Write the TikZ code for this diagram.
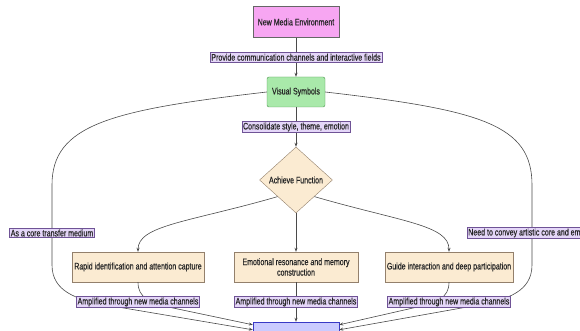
\documentclass[tikz,border=0pt]{standalone}
\usepackage{fontspec}
\setmainfont{Liberation Sans}[FakeStretch=0.74,FakeBold=0.4]
\usetikzlibrary{arrows.meta,calc,shapes.geometric}

\definecolor{envpink}{HTML}{F7A6F2}
\definecolor{symgreen}{HTML}{A9E9AA}
\definecolor{funcpeach}{HTML}{FBEBD2}
\definecolor{lblfill}{HTML}{E4D6F8}
\definecolor{lbldraw}{HTML}{6F5396}
\definecolor{resblue}{HTML}{CACBFF}
\definecolor{edgegray}{HTML}{4A4A4A}

\tikzset{
  txt/.style={font=\fontsize{9.5}{10.5}\selectfont, align=center, text=black!85},
  envbox/.style={txt, rectangle, draw=gray!80!black, fill=envpink, minimum width=86pt, minimum height=31pt},
  symbox/.style={txt, rectangle, rounded corners=2pt, draw=green!40!black!70, fill=symgreen, minimum width=58pt, minimum height=30pt},
  funcdia/.style={txt, diamond, aspect=1.1, inner sep=0pt, draw=gray!70!brown, fill=funcpeach, minimum width=73pt, minimum height=66pt},
  effbox/.style={txt, rectangle, draw=gray!70!brown, fill=funcpeach, minimum height=30pt, inner sep=2pt},
  resbox/.style={txt, rectangle, draw=blue!55!gray, fill=resblue, minimum width=86pt, minimum height=38pt},
  lbl/.style={txt, rectangle, draw=lbldraw, fill=lblfill, inner sep=1.2pt},
  link/.style={edgegray, line width=0.6pt, -{Stealth[length=4pt,width=3pt]}}
}

\begin{document}
\begin{tikzpicture}[x=1pt,y=-1pt]
\useasboundingbox (0,0) rectangle (580,331);

\node[envbox] (env) at (296,22) {New Media Environment};
\node[symbox] (sym) at (296,92) {Visual Symbols};
\node[funcdia] (ach) at (296,180) {Achieve Function};
\node[effbox, minimum width=132pt] (rapid) at (138,267) {Rapid identification and attention capture};
\node[effbox, minimum width=124pt] (emo) at (296,267) {Emotional resonance and memory\\construction};
\node[effbox, minimum width=124pt] (guide) at (449,267) {Guide interaction and deep participation};
\node[resbox] (res) at (296,341) {};

\coordinate (resl1) at ($(res.north west)+(0,3)$);
\coordinate (resl2) at ($(res.north west)+(0,8)$);
\coordinate (resr1) at ($(res.north east)+(0,3)$);
\coordinate (resr2) at ($(res.north east)+(0,8)$);

% long side routes
\draw[link] (sym.west) .. controls (110,110) and (52,125) .. (52,185) -- (52,265)
  .. controls (52,292) and (78,299) .. (100,304) -- (resl2);
\draw[link] (sym.east) .. controls (482,110) and (532,125) .. (532,185) -- (532,265)
  .. controls (532,292) and (506,299) .. (484,304) -- (resr2);
\node[lbl] (core) at (52,233) {As a core transfer medium};
\node[lbl] (convey) at (532,233) {Need to convey artistic core and emotion};

\draw[link] (env) -- node[lbl] (chan) {Provide communication channels and interactive fields} (sym);
\draw[link] (sym) -- node[lbl] (cons) {Consolidate style, theme, emotion} (ach);

\draw[link] (ach.south west) .. controls (190,222) and (138,225) .. (rapid.north);
\draw[link] (ach) -- (emo);
\draw[link] (ach.south east) .. controls (402,222) and (449,225) .. (guide.north);

\draw[link] (rapid.south) .. controls (138,298) and (150,303) .. (173,308) -- (resl1);
\draw[link] (emo) -- (res);
\draw[link] (guide.south) .. controls (449,298) and (437,303) .. (413,308) -- (resr1);
\node[lbl] (ampl) at (138,302) {Amplified through new media channels};
\node[lbl] (ampm) at (296,302) {Amplified through new media channels};
\node[lbl] (ampr) at (449,302) {Amplified through new media channels};
\end{tikzpicture}
\end{document}
